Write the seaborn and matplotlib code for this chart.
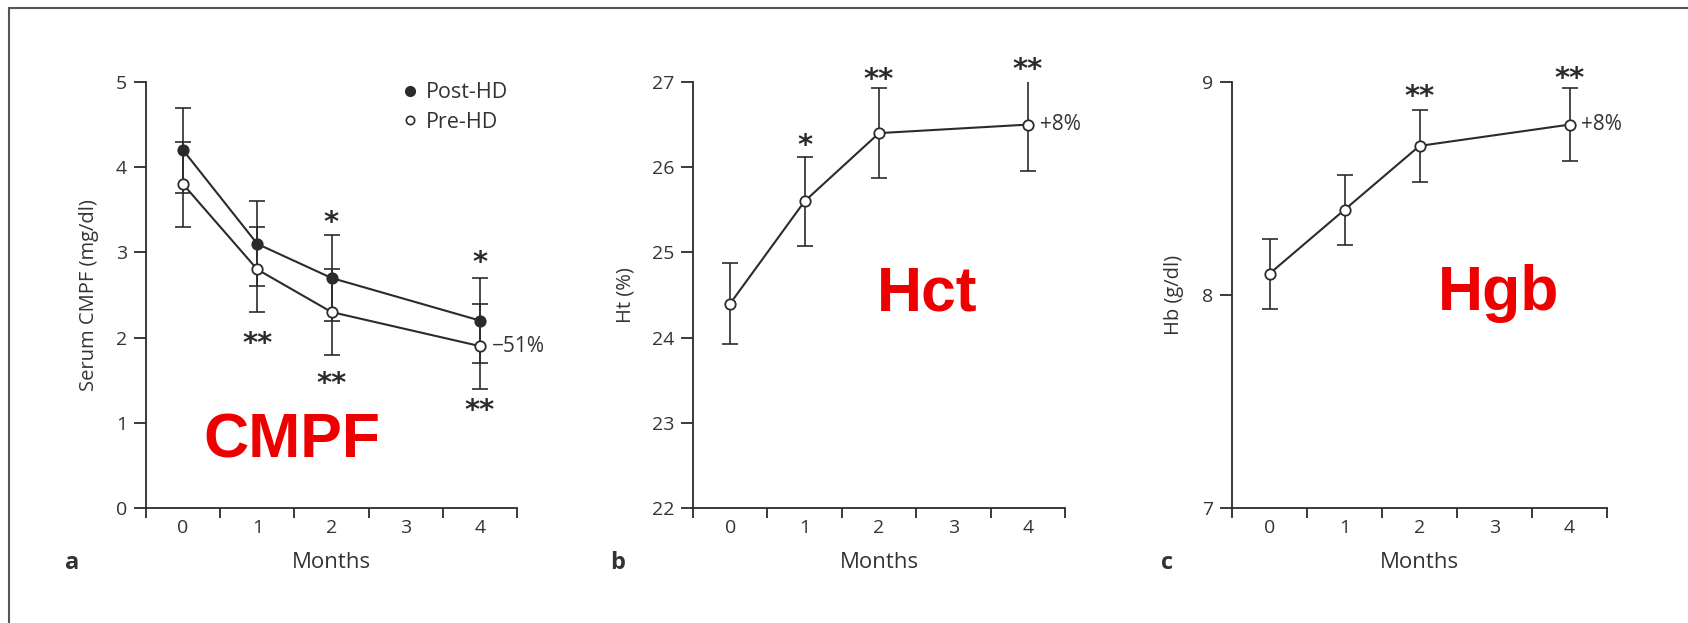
import matplotlib
matplotlib.use("Agg")
import matplotlib.pyplot as plt
import seaborn as sns
import pandas as pd
from matplotlib.lines import Line2D

# ---------------- data ----------------
month_labels = ["0", "1", "2", "3", "4"]
months = [0, 1, 2, 4]

cmpf_post = [4.2, 3.1, 2.7, 2.2]
cmpf_post_err = [0.5, 0.5, 0.5, 0.5]
cmpf_pre = [3.8, 2.8, 2.3, 1.9]
cmpf_pre_err = [0.5, 0.5, 0.5, 0.5]

hct = [24.4, 25.6, 26.4, 26.5]
hct_err = [0.48, 0.52, 0.53, 0.54]

hgb = [8.1, 8.4, 8.7, 8.8]
hgb_err = [0.165, 0.165, 0.17, 0.17]

sns.set_theme(style="white")
plt.rcParams['font.family'] = ['Open Sans', 'DejaVu Sans']

W, H = 1688, 623
fig = plt.figure(figsize=(W / 100, H / 100), dpi=100)

ink = "#2b2b2b"
txt = "#333333"

def px_axes(x0, x1, ytop, ybot):
    return fig.add_axes([x0 / W, 1 - ybot / H, (x1 - x0) / W, (ybot - ytop) / H])

ax_a = px_axes(146, 517, 82, 508)
ax_b = px_axes(693, 1065, 82, 508)
ax_c = px_axes(1232, 1607, 82, 508)

def style_axes(ax, ylim, yticks, ylabel, ylabelpad):
    ax.set_xlim(-0.5, 4.5)
    ax.set_ylim(*ylim)
    for s in ["top", "right"]:
        ax.spines[s].set_visible(False)
    for s in ["left", "bottom"]:
        ax.spines[s].set_color(ink)
        ax.spines[s].set_linewidth(1.3)
    ax.set_xticks([-0.5, 0.5, 1.5, 2.5, 3.5, 4.5])
    ax.set_xticklabels([])
    ax.set_xticks([0, 1, 2, 3, 4], minor=True)
    ax.set_xticklabels(month_labels, minor=True)
    ax.tick_params(axis="x", which="major", direction="out", length=7, width=1.3,
                   color=ink, bottom=True)
    ax.tick_params(axis="x", which="minor", length=0, pad=8, labelsize=14,
                   labelcolor=txt, bottom=True)
    ax.set_yticks(yticks)
    ax.set_yticklabels([str(t) for t in yticks])
    ax.tick_params(axis="y", direction="out", length=8.5, width=1.3, color=ink,
                   labelsize=14, labelcolor=txt, left=True, pad=5)
    ax.set_ylabel(ylabel, fontsize=14.5, color=txt, labelpad=ylabelpad)
    ax.set_xlabel("Months", fontsize=16, color=txt, labelpad=11)
    ax.set_facecolor("white")

def series(ax, y, err, filled):
    df = pd.DataFrame({"Months": months, "value": y})
    ax.errorbar(months, y, yerr=err, fmt="none", ecolor=ink, elinewidth=1.2,
                capsize=6, capthick=1.2, zorder=2)
    sns.lineplot(data=df, x="Months", y="value", ax=ax, color=ink, linewidth=1.5,
                 marker="o", markersize=7.5, markeredgewidth=1.3,
                 markeredgecolor=ink,
                 markerfacecolor=ink if filled else "white",
                 zorder=3, legend=False)

# panel a
series(ax_a, cmpf_post, cmpf_post_err, True)
series(ax_a, cmpf_pre, cmpf_pre_err, False)
style_axes(ax_a, (0, 5), [0, 1, 2, 3, 4, 5], "Serum CMPF (mg/dl)", 12)
handles = [Line2D([], [], marker="o", color=ink, linestyle="none", markersize=7,
                  markerfacecolor=ink, markeredgecolor=ink),
           Line2D([], [], marker="o", color=ink, linestyle="none", markersize=6,
                  markerfacecolor="white", markeredgecolor=ink, markeredgewidth=1.2)]
ax_a.legend(handles, ["Post-HD", "Pre-HD"], loc="upper right", frameon=False,
            fontsize=15.5, handlelength=0.6, handletextpad=0.45, labelspacing=0.4,
            borderaxespad=0, bbox_to_anchor=(1.0, 1.02), labelcolor=txt)

# panel b
series(ax_b, hct, hct_err, False)
style_axes(ax_b, (22, 27), [22, 23, 24, 25, 26, 27], "Ht (%)", 12)

# panel c
series(ax_c, hgb, hgb_err, False)
style_axes(ax_c, (7, 9), [7, 8, 9], "Hb (g/dl)", 13)

# significance stars
star_kw = dict(ha="center", va="center", fontsize=21, color=ink,
               family=["DejaVu Sans"], fontweight="bold", clip_on=False)
ax_a.text(2, 3.35, "*", **star_kw)
ax_a.text(4, 2.87, "*", **star_kw)
ax_a.text(1, 1.93, "**", **star_kw)
ax_a.text(2, 1.46, "**", **star_kw)
ax_a.text(4, 1.14, "**", **star_kw)

ax_b.text(1, 26.245, "*", **star_kw)
ax_b.text(2, 27.025, "**", **star_kw)
ax_b.text(4, 27.135, "**", **star_kw)

ax_c.text(2, 8.93, "**", **star_kw)
ax_c.text(4, 9.012, "**", **star_kw)

# percent changes
pct_kw = dict(ha="left", va="center", fontsize=15, color=txt, clip_on=False)
ax_a.text(4.16, 1.9, "\u221251%", **pct_kw)
ax_b.text(4.16, 26.5, "+8%", **pct_kw)
ax_c.text(4.16, 8.8, "+8%", **pct_kw)

# big red labels
red_kw = dict(ha="center", va="baseline", fontsize=45, color="#ee0000",
              fontweight="bold", family=["Liberation Sans"])
ax_a.text(1.47, 0.59, "CMPF", **red_kw)
ax_b.text(2.65, 24.32, "Hct", **red_kw)
ax_c.text(3.06, 7.93, "Hgb", **red_kw)

# panel letters
for x, lab in [(72, "a"), (618, "b"), (1167, "c")]:
    fig.text(x / W, 1 - 563 / H, lab, ha="center", va="center", fontsize=17,
             fontweight="bold", color=txt)

# outer frame (top and left edges)
fig.add_artist(Line2D([9 / W, 9 / W], [1 - 8 / H, 0], color="#555555", linewidth=1.5))
fig.add_artist(Line2D([9 / W, 1], [1 - 8 / H, 1 - 8 / H], color="#555555", linewidth=1.5))

fig.savefig("out.png", dpi=100, facecolor="white")
